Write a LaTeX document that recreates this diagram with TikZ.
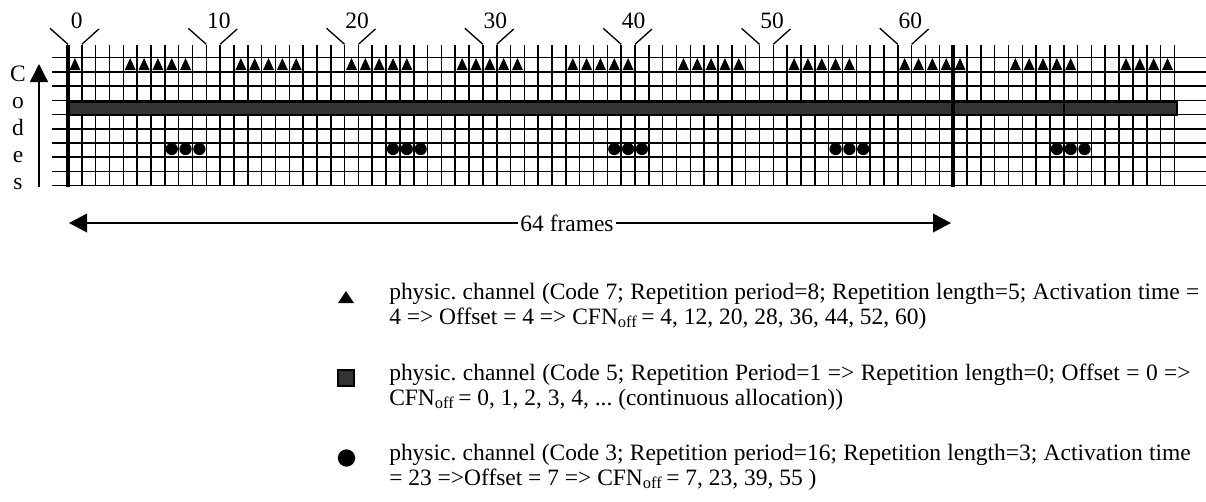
\documentclass[tikz,border=0pt]{standalone}
\usepackage{fontspec}
\setmainfont{Liberation Serif}
\usetikzlibrary{arrows.meta}
\definecolor{barfill}{RGB}{51,51,51}
\frenchspacing
\begin{document}
\begin{tikzpicture}[x=0.75pt,y=-0.75pt,
  gridline/.style={line width=1.15pt},
  tickline/.style={line width=1pt},
  thickline/.style={line width=2.6pt},
  lbl/.style={font=\fontsize{17.6pt}{21pt}\selectfont, inner sep=0pt},
  bigtip/.style={-{Triangle[length=13.5pt,width=14pt]}},
  arrowline/.style={line width=1.1pt},
  barstyle/.style={fill=barfill, draw=black, line width=0.8pt}
]
\useasboundingbox (0,0) rectangle (1206,501);
\def\cw{13.83}
% horizontal grid lines
\foreach \i in {0,...,9}
  \draw[gridline] (52,{57.7+14.22*\i}) -- (1206,{57.7+14.22*\i});
% vertical grid lines
\foreach \k in {0,...,80}
  \draw[gridline] ({68+\cw*\k},45) -- ({68+\cw*\k},185.7);
% continuous allocation bar (code 5)
\path[barstyle] (68,102) rectangle (1177,115);
\draw[gridline] ({68+\cw*72},102) -- ({68+\cw*72},115);
% thick frame boundaries
\draw[thickline] (68,45) -- (68,186.5);
\draw[thickline] ({68+\cw*64},45) -- ({68+\cw*64},186.5);
% triangles (code 7)
\fill ({68+\cw*0.5-5.5},70) -- ++(11,0) -- ++(-5.5,-12) -- cycle;
\foreach \g in {4,12,...,76}
  \foreach \j in {0,...,4} {
    \pgfmathtruncatemacro\kk{\g+\j}
    \ifnum\kk<80
      \fill ({68+\cw*(\kk+0.5)-5.5},70) -- ++(11,0) -- ++(-5.5,-12) -- cycle;
    \fi
  }
% circles (code 3)
\foreach \k in {7,8,9,23,24,25,39,40,41,55,56,57,71,72,73}
  \fill ({68+\cw*(\k+0.5)},149) circle (4.6pt);
% frame number labels and ticks
\node[lbl,anchor=base] (n0) at (76.7,28) {0};
\draw[tickline] (50,28.3) -- (68,44.3);
\draw[tickline] ({68+\cw},44.3) -- ({68+\cw+17},29);
\foreach \n/\c in {10/10,20/20,30/30,40/40,50/50,60/60} {
  \node[lbl,anchor=base west] (n\n) at ({68+\cw*\c+0.5},28) {\n};
  \draw[tickline] ({68+\cw*\c-18},28.3) -- ({68+\cw*\c},44.3);
  \draw[tickline] ({68+\cw*(\c+1)},44.3) -- ({68+\cw*(\c+1)+17},29);
}
% Codes axis
\coordinate (cb) at (39,187);
\coordinate (ct) at (39,64);
\draw[line width=1pt,-{Triangle[length=13.5pt,width=13.5pt]}] (cb) -- (ct);
\node[lbl,anchor=base] (cC) at (18,81) {C};
\node[lbl,anchor=base] (co) at (18,108) {o};
\node[lbl,anchor=base] (cd) at (18,135) {d};
\node[lbl,anchor=base] (ce) at (18,162) {e};
\node[lbl,anchor=base] (cs) at (18,189) {s};
% 64 frames arrow
\node[lbl,inner xsep=1.5pt] (frames) at (567,223) {64 frames};
\coordinate (fl) at (69,223);
\coordinate (fr) at (951,223);
\draw[arrowline,bigtip] (frames.west) -- (fl);
\draw[arrowline,bigtip] (frames.east) -- (fr);
% legend symbols
\fill (338,303) -- (354,303) -- (346,291) -- cycle;
\path[barstyle] (338,370) rectangle (354,386);
\fill (346.5,458) circle (6.5pt);
% legend texts
\node[lbl,anchor=base west] (t1a) at (389,299) {\makebox[607.5pt][s]{physic. channel (Code 7; Repetition period=8; Repetition length=5; Activation time =}};
\node[lbl,anchor=base west] (t1b) at (389,324) {4 => Offset = 4 => CFN\textsubscript{off}\,= 4, 12, 20, 28, 36, 44, 52, 60)};
\node[lbl,anchor=base west] (t2a) at (389,380) {\makebox[601pt][s]{physic. channel (Code 5; Repetition Period=1 => Repetition length=0; Offset = 0 =>}};
\node[lbl,anchor=base west] (t2b) at (389,405) {CFN\textsubscript{off}\,= 0, 1, 2, 3, 4, ... (continuous allocation))};
\node[lbl,anchor=base west] (t3a) at (389,460) {\makebox[601pt][s]{physic. channel (Code 3; Repetition period=16; Repetition length=3; Activation time}};
\node[lbl,anchor=base west] (t3b) at (389,485) {= 23 =>Offset = 7 => CFN\textsubscript{off}\,= 7, 23, 39, 55 )};
\end{tikzpicture}
\end{document}
